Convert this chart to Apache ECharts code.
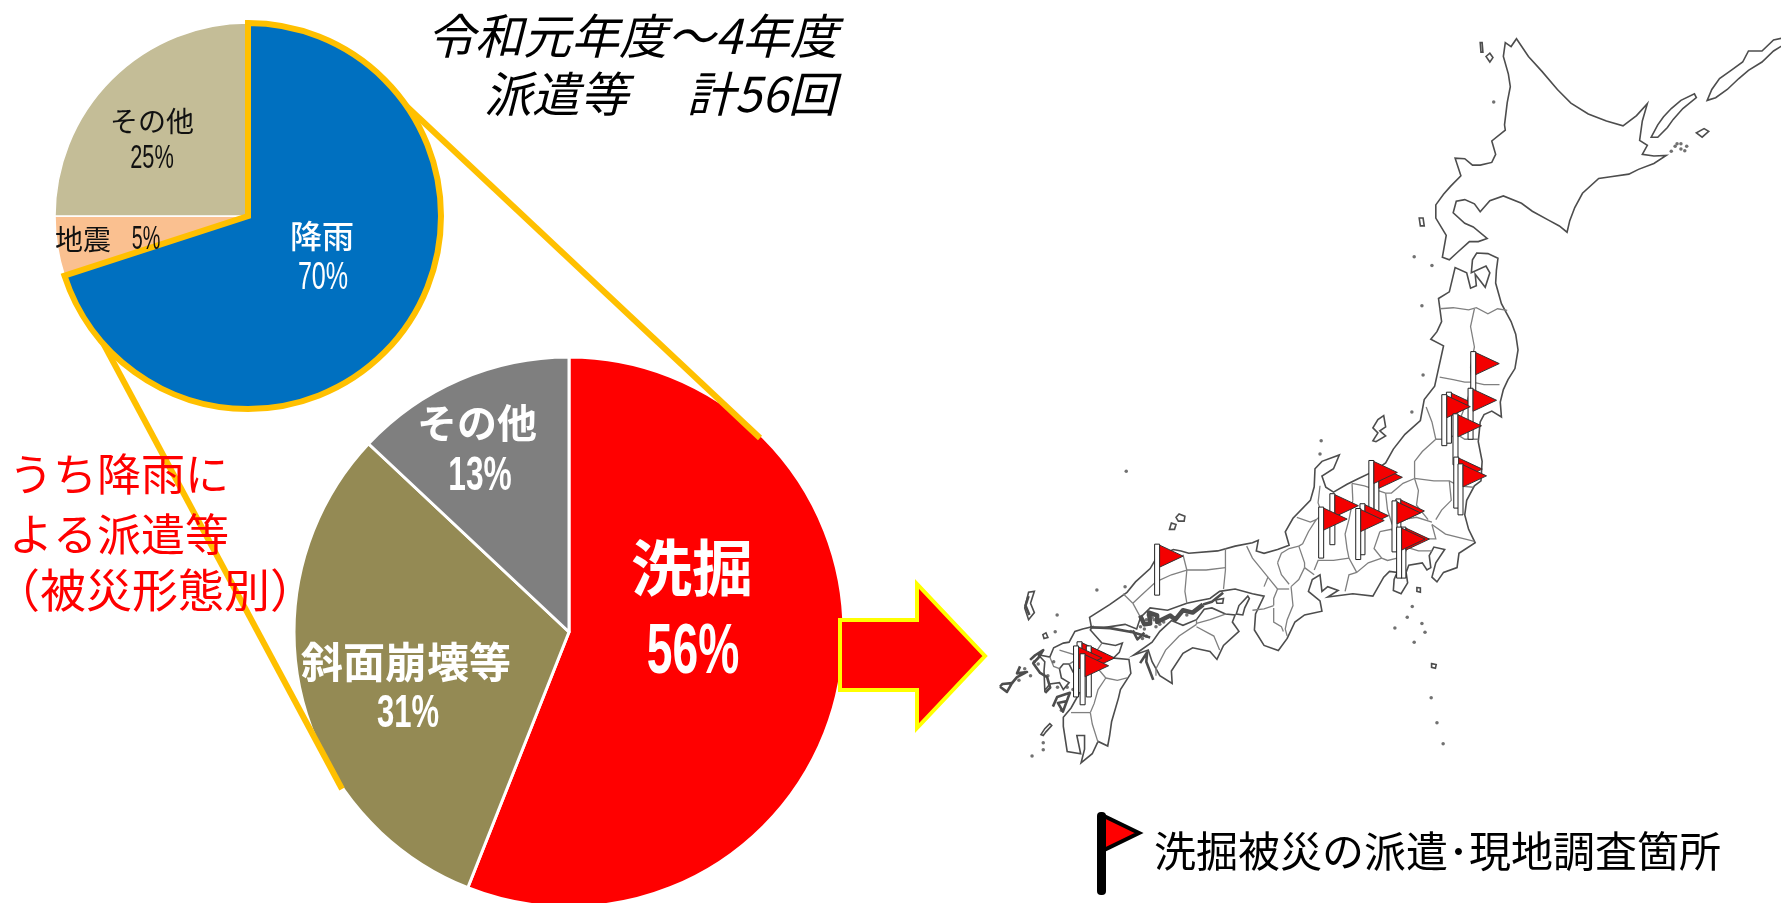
<!DOCTYPE html>
<html lang="ja">
<head>
<meta charset="utf-8">
<title>令和元年度～4年度 派遣等</title>
<style>html,body{margin:0;padding:0;background:#fff}#chart{width:1781px;height:903px}</style>
<script src="https://cdn.jsdelivr.net/npm/echarts@6/dist/echarts.min.js"></script>
</head>
<body>
<div id="chart"></div>
<script>
// ---- dispatch shares ----
const causeNames = ['地震', 'その他', '降雨'];
const causeValues = [5, 25, 70];
const causeColors = ['#FAC090', '#C4BD97', '#0070C0'];
const damageNames = ['洗掘', '斜面崩壊等', 'その他'];
const damageValues = [56, 31, 13];
const damageColors = ['#FF0000', '#948A54', '#7F7F7F'];

const titleLines = ['令和元年度～4年度', '　派遣等　 計56回'];
const sideNoteLines = ['うち降雨に', 'よる派遣等', '（被災形態別）'];
const legendText = '洗掘被災の派遣･現地調査箇所';

// where each slice's name and its condensed percentage sit
const causeNameAnchors = [[83, 239], [152, 121], [322, 236]];
const causePctAnchors = [[146, 240], [152, 159], [323, 279]];
const causePctStyle = [[33, 0.6], [33, 0.66], [38, 0.66]];
const damageNameAnchors = [[692, 568], [406, 662], [477, 423]];
const damagePctAnchors = [[693, 654], [408, 714], [480, 477]];
const damagePctStyle = [[70, 0.66], [47, 0.66], [48, 0.66]];

// ---- scour survey sites: longitude, latitude of each flag's foot ----
const flagSites = [
  [140.82, 38.59], [140.19, 37.77], [140.75, 37.85], [140.07, 37.72], [140.36, 37.33],
  [140.38, 36.44], [140.49, 36.30], [138.31, 36.27], [138.18, 36.37], [137.17, 35.68],
  [136.88, 35.40], [137.95, 35.47], [137.84, 35.37], [138.88, 35.57], [138.78, 35.53],
  [139.01, 34.98], [138.90, 34.98], [132.63, 34.62], [130.62, 32.53], [130.86, 32.44],
  [130.53, 32.44], [130.70, 32.27]
];

// ---- coastlines, longitude / latitude ----
const hokkaido = [[141.94,45.52],[142.25,45.2],[142.6,44.93],[143.0,44.6],[143.35,44.35],[143.8,44.15],[144.27,44.02],[144.7,43.93],[145.05,44.12],[145.33,44.34],[145.2,44.02],[145.13,43.66],[145.33,43.57],[145.2,43.4],[145.5,43.37],[145.82,43.38],[145.5,43.23],[145.1,43.12],[144.85,43.03],[144.38,42.98],[144.07,42.95],[143.65,42.67],[143.45,42.4],[143.32,42.15],[143.25,41.93],[143.05,42.05],[142.77,42.16],[142.35,42.33],[142.07,42.48],[141.6,42.62],[141.25,42.53],[141.0,42.32],[140.85,42.47],[140.6,42.55],[140.38,42.52],[140.3,42.3],[140.6,42.1],[140.82,42.03],[141.18,41.81],[140.95,41.75],[140.72,41.75],[140.42,41.55],[140.2,41.4],[140.02,41.45],[140.12,41.87],[139.85,42.2],[139.85,42.45],[140.05,42.65],[140.23,42.8],[140.5,43.0],[140.35,43.33],[140.6,43.32],[140.8,43.2],[141.0,43.2],[141.3,43.25],[141.4,43.4],[141.3,43.65],[141.65,43.85],[141.63,43.95],[141.7,44.36],[141.78,44.65],[141.73,44.88],[141.6,45.2],[141.65,45.45],[141.8,45.38]];

const honshu = [[140.91,41.53],[141.2,41.52],[141.46,41.43],[141.42,41.2],[141.4,40.95],[141.55,40.55],[141.8,40.2],[141.92,39.95],[141.98,39.64],[141.9,39.27],[141.72,39.05],[141.6,38.85],[141.52,38.6],[141.55,38.3],[141.3,38.42],[141.1,38.35],[141.0,38.2],[140.95,37.8],[141.05,37.4],[141.02,37.0],[140.85,36.9],[140.65,36.6],[140.6,36.3],[140.7,36.0],[140.87,35.72],[140.45,35.5],[140.4,35.2],[140.05,35.1],[139.88,34.9],[139.75,35.0],[139.85,35.3],[140.08,35.58],[139.8,35.63],[139.68,35.45],[139.72,35.2],[139.62,35.15],[139.5,35.3],[139.15,35.25],[139.08,35.1],[139.12,34.88],[138.95,34.65],[138.75,34.72],[138.77,34.95],[138.85,35.1],[138.65,35.12],[138.5,35.0],[138.22,34.6],[137.7,34.65],[137.05,34.58],[137.32,34.72],[137.05,34.8],[136.9,34.7],[136.85,35.05],[136.65,34.95],[136.55,34.7],[136.85,34.5],[136.9,34.28],[136.45,34.2],[136.2,34.05],[136.0,33.7],[135.77,33.44],[135.4,33.55],[135.15,33.88],[135.18,34.22],[135.4,34.6],[135.1,34.65],[134.65,34.75],[134.25,34.7],[134.0,34.55],[133.7,34.5],[133.4,34.45],[132.9,34.3],[132.45,34.35],[132.2,34.15],[132.1,33.9],[131.8,34.0],[131.25,33.93],[130.93,33.93],[130.88,34.15],[131.4,34.42],[131.85,34.68],[132.07,34.9],[132.45,35.18],[132.63,35.43],[133.05,35.58],[133.25,35.55],[133.45,35.5],[134.2,35.55],[134.65,35.65],[135.1,35.72],[135.25,35.77],[135.2,35.55],[135.4,35.5],[135.75,35.58],[136.05,35.67],[135.95,35.95],[136.15,36.23],[136.6,36.6],[136.7,36.88],[136.72,37.25],[136.9,37.4],[137.35,37.53],[137.2,37.25],[136.9,37.1],[137.0,36.87],[137.2,36.77],[137.55,36.93],[137.85,37.05],[138.25,37.2],[138.55,37.37],[138.75,37.65],[139.05,37.95],[139.45,38.23],[139.55,38.65],[139.82,38.92],[139.9,39.2],[140.05,39.72],[139.72,39.85],[139.88,40.0],[140.0,40.2],[139.92,40.65],[140.2,40.78],[140.35,41.25],[140.65,41.15],[140.75,40.85],[140.9,40.9],[140.87,41.12],[141.13,40.87],[141.25,41.15],[141.15,41.28],[140.77,41.15],[140.8,41.4]];

const shikoku = [[134.65,34.2],[134.58,34.05],[134.75,33.85],[134.35,33.55],[134.18,33.25],[134.0,33.42],[133.55,33.5],[133.3,33.38],[133.0,33.0],[133.02,32.73],[132.7,32.9],[132.5,33.2],[132.4,33.45],[132.02,33.34],[132.5,33.62],[132.7,33.85],[133.0,34.08],[133.3,33.98],[133.65,34.1],[133.85,34.32],[134.05,34.35],[134.4,34.22]];

const kyushu = [[130.95,33.95],[130.9,33.88],[131.2,33.6],[131.55,33.55],[131.73,33.6],[131.65,33.4],[131.5,33.28],[131.9,33.25],[131.95,32.95],[131.68,32.6],[131.63,32.42],[131.45,31.9],[131.4,31.6],[131.35,31.37],[131.1,31.47],[130.95,31.2],[130.66,31.0],[130.75,31.3],[130.75,31.6],[130.55,31.6],[130.65,31.2],[130.3,31.25],[130.2,31.8],[130.2,32.0],[130.4,32.2],[130.6,32.5],[130.6,32.8],[130.45,32.98],[130.35,33.15],[130.2,33.15],[130.1,33.05],[130.15,32.85],[130.35,32.75],[130.2,32.6],[130.1,32.75],[129.85,32.72],[129.72,32.58],[129.7,33.0],[129.72,33.2],[129.55,33.35],[129.85,33.3],[129.95,33.5],[130.2,33.6],[130.35,33.62],[130.5,33.85],[130.7,33.9]];

const awaji = [[134.98,34.6],[135.02,34.55],[134.9,34.35],[134.85,34.2],[134.68,34.22],[134.75,34.4]];
const sado = [[138.5,38.33],[138.55,38.1],[138.4,38.02],[138.55,37.92],[138.3,37.8],[138.22,37.82],[138.35,37.98],[138.22,38.08],[138.35,38.25]];
const tsushima = [[129.45,34.7],[129.3,34.68],[129.2,34.35],[129.3,34.1],[129.45,34.25],[129.35,34.45]];
const okiDogo = [[133.2,36.32],[133.35,36.27],[133.33,36.17],[133.18,36.17],[133.12,36.25]];
const okiDozen = [[133.0,36.13],[133.12,36.1],[133.08,36.0],[132.95,36.0]];
const iki = [[129.67,33.78],[129.75,33.82],[129.8,33.72],[129.7,33.7]];
const koshiki = [[129.62,31.62],[129.72,31.75],[129.85,31.86],[129.9,31.82],[129.75,31.68],[129.68,31.6]];
const rebun = [[141.0,45.45],[141.05,45.45],[141.07,45.28],[141.02,45.28]];
const rishiri = [[141.15,45.2],[141.25,45.26],[141.33,45.18],[141.25,45.1]];
const okushiri = [[139.42,42.2],[139.52,42.2],[139.55,42.05],[139.45,42.05]];
const kunashiri = [[145.43,43.72],[145.6,43.72],[145.85,43.9],[146.0,44.05],[146.25,44.25],[146.6,44.45],[146.55,44.52],[146.2,44.4],[145.95,44.25],[145.75,44.1],[145.6,43.95]];
const etorofu = [[146.88,44.4],[147.1,44.45],[147.4,44.6],[147.7,44.8],[147.95,44.95],[148.3,45.1],[148.6,45.3],[148.95,45.45],[148.95,45.55],[148.6,45.5],[148.3,45.3],[147.95,45.3],[147.8,45.1],[147.5,44.95],[147.2,44.8],[147.0,44.6]];
const shikotan = [[146.6,43.8],[146.75,43.72],[146.92,43.83],[146.8,43.88]];
const izuOshima = [[139.36,34.78],[139.45,34.77],[139.45,34.68],[139.36,34.7]];
const hachijo = [[139.74,33.16],[139.86,33.14],[139.84,33.06],[139.74,33.08]];
const shodoshima = [[134.15,34.52],[134.35,34.55],[134.33,34.45],[134.18,34.45]];

const islandRings = [hokkaido, honshu, shikoku, kyushu, awaji, sado, tsushima, okiDogo, okiDozen, iki,
  koshiki, rebun, rishiri, okushiri, kunashiri, etorofu, shikotan, izuOshima, hachijo, shodoshima];

// the crowded Seto islands, drawn as a heavy strand
const setoStrands = [
  [[132.19,34.19],[132.3,34.0],[132.45,34.02],[132.42,34.25],[132.63,34.19],[132.63,34.05],[132.97,34.19],[133.1,34.1],[133.3,34.3],[133.55,34.25],[133.82,34.42]]
];
// fretted shores and small archipelagos, a lighter strand
const shoreStrands = [
  [[128.56,32.66],[128.74,32.55],[128.87,32.74],[128.62,32.72],[128.56,32.66]],
  [[128.87,32.74],[129.0,32.87],[129.26,32.98],[129.0,32.95],[129.08,33.1]],
  [[129.34,33.24],[129.47,33.34],[129.68,33.45],[129.55,33.28],[129.42,33.17],[129.6,32.96],[129.78,32.87],[129.86,32.64],[129.73,32.53]],
  [[129.93,32.23],[130.04,32.44],[130.37,32.53],[130.19,32.12],[130.06,32.31],[130.3,32.35]],
  [[130.89,33.94],[131.41,33.92],[132.0,33.83],[132.45,33.72]],
  [[132.19,33.17],[132.37,33.4],[132.35,33.2],[132.53,32.81]],
  [[133.82,34.42],[134.05,34.48],[134.34,34.67]],
  [[132.0,33.87],[132.12,33.68],[132.3,33.82]],
  [[129.3,34.6],[129.22,34.4],[129.32,34.2]]
];

// small islands too fine for an outline
const islets = [
  [132.4,34.2],[132.5,34.15],[132.35,34.1],[132.2,33.95],[132.3,33.9],[132.6,33.95],[132.7,34.0],[132.8,34.05],[132.55,34.1],[133.4,34.2],
  [133.1,34.12],[131.95,33.85],[132.25,33.7],[132.35,33.75],[129.55,33.15],[129.45,33.2],[129.2,33.05],[129.8,32.9],[129.35,32.9],[129.05,32.8],
  [129.95,33.2],[130.05,32.65],[130.3,32.65],[130.15,32.15],[130.45,32.6],
  [131.07,34.73],[131.8,34.8],[130.04,34.2],[129.99,33.84],[129.68,31.44],[129.68,31.29],[129.39,31.15],
  [139.49,40.51],[139.29,41.46],[139.75,41.29],[139.52,39.14],[139.23,38.4],[136.88,37.82],[136.85,37.55],[131.83,37.2],[141.35,44.37],
  [139.24,34.38],[139.11,34.15],[139.49,34.02],[139.57,33.83],[139.29,33.62],[139.73,32.42],[139.88,31.88],[140.04,31.42],[138.79,33.92],
  [146.05,43.55],[146.1,43.6],[146.2,43.5],[146.3,43.47],[146.35,43.55],[145.95,43.46],[146.2,43.6]
];

// prefectural boundaries
const prefBorders = [
  [[139.95,40.45],[140.3,40.47],[140.7,40.43],[140.9,40.47],[141.2,40.35],[141.45,40.45],[141.7,40.42]],
  [[140.85,40.45],[140.75,40.1],[140.85,39.7],[140.75,39.3],[140.78,39.0]],
  [[140.8,39.0],[141.1,38.95],[141.5,38.95]],
  [[139.95,39.1],[140.3,39.05],[140.6,39.0],[140.8,39.0]],
  [[140.8,39.0],[140.65,38.6],[140.45,38.2],[140.4,37.95]],
  [[140.4,37.95],[140.6,37.85],[140.95,37.85]],
  [[139.85,37.85],[139.75,38.2],[139.6,38.5]],
  [[140.4,37.95],[140.1,37.85],[139.85,37.85]],
  [[139.85,37.85],[139.5,37.6],[139.3,37.4],[139.3,37.05]],
  [[139.3,37.05],[139.8,37.0],[140.2,37.0],[140.45,36.9],[140.82,36.87]],
  [[139.3,37.05],[139.0,36.95],[138.7,36.75],[138.55,36.75]],
  [[139.3,37.05],[139.4,36.8],[139.35,36.5],[139.65,36.2]],
  [[140.2,37.0],[140.25,36.6],[140.0,36.4],[139.85,36.2]],
  [[139.75,36.1],[140.1,35.9],[140.85,35.75]],
  [[138.72,36.1],[139.0,36.2],[139.35,36.25],[139.75,36.15]],
  [[138.72,36.0],[139.1,35.85],[139.6,35.8],[139.85,35.8],[139.75,36.1]],
  [[139.0,35.65],[139.4,35.55],[139.75,35.55]],
  [[138.4,35.95],[138.7,36.0],[138.95,35.75],[139.1,35.6],[138.85,35.4],[138.6,35.35],[138.45,35.4],[138.25,35.6],[138.4,35.95]],
  [[139.08,35.1],[139.0,35.4],[139.1,35.6]],
  [[138.45,35.4],[138.1,35.3],[137.8,35.1],[137.6,35.05],[137.5,34.7]],
  [[137.7,36.6],[137.6,36.2],[137.5,35.9],[137.55,35.6],[137.6,35.4],[137.8,35.1]],
  [[138.55,36.75],[138.6,36.4],[138.72,36.1]],
  [[137.68,36.95],[138.0,36.9],[138.55,36.75]],
  [[137.68,36.95],[137.7,36.6]],
  [[137.7,36.45],[137.35,36.35],[136.9,36.3]],
  [[136.85,36.9],[136.8,36.55],[136.9,36.3]],
  [[136.25,36.25],[136.6,36.15],[136.75,36.2],[136.9,36.3]],
  [[136.75,36.2],[136.55,35.95],[136.4,35.7],[136.3,35.65]],
  [[136.3,35.65],[136.45,35.3],[136.45,35.2]],
  [[136.3,35.65],[136.05,35.6],[135.85,35.5],[135.75,35.3]],
  [[136.45,35.2],[136.3,34.95],[136.1,34.8]],
  [[136.7,35.15],[136.8,35.35],[137.2,35.35],[137.6,35.4]],
  [[136.45,35.2],[136.7,35.05]],
  [[136.1,34.8],[136.15,34.4],[136.0,34.1],[135.95,33.9],[136.0,33.75]],
  [[135.75,35.3],[135.85,35.05],[136.05,34.85]],
  [[136.05,34.75],[135.75,34.75]],
  [[135.75,34.75],[135.65,34.55],[135.65,34.4]],
  [[135.1,34.3],[135.4,34.33],[135.65,34.4]],
  [[135.65,34.35],[135.65,34.05],[135.85,33.95],[135.9,33.85]],
  [[135.75,34.75],[135.5,35.0],[135.4,34.8]],
  [[134.95,35.65],[135.1,35.4],[135.4,35.1],[135.5,35.0]],
  [[134.4,35.6],[134.4,35.15],[134.35,34.75]],
  [[134.4,35.2],[133.9,35.15],[133.4,35.15]],
  [[133.4,35.15],[133.35,34.7],[133.4,34.45]],
  [[133.4,35.15],[133.0,35.05],[132.6,34.9],[132.2,34.6],[132.0,34.45]],
  [[133.4,35.15],[133.3,35.47]],
  [[132.0,34.45],[131.75,34.65]],
  [[132.0,34.45],[132.2,34.15]],
  [[134.4,34.22],[134.0,34.1],[133.65,34.02]],
  [[133.65,34.1],[133.65,34.0]],
  [[133.65,34.0],[133.2,33.75],[132.85,33.45],[132.6,33.05],[132.6,32.9]],
  [[133.65,33.95],[134.1,33.75],[134.25,33.45]],
  [[131.2,33.6],[131.0,33.35],[130.95,33.12]],
  [[130.1,33.45],[130.5,33.35],[130.55,33.25],[130.35,33.15]],
  [[130.45,33.0],[130.8,33.05],[130.95,33.12]],
  [[130.95,33.12],[131.15,33.0],[131.3,32.85]],
  [[131.3,32.85],[131.6,32.8],[131.85,32.85]],
  [[131.3,32.85],[131.1,32.6],[131.0,32.3],[130.9,32.1]],
  [[130.4,32.1],[130.7,32.1],[130.9,32.1]],
  [[130.9,32.1],[130.95,31.85],[131.1,31.45]],
  [[129.85,33.3],[129.95,33.1],[130.1,33.05]]
];

const FONT = '"Noto Sans CJK JP", "Noto Sans", sans-serif';
const LATIN = '"Liberation Sans", sans-serif';

echarts.registerMap('japan', {
  type: 'FeatureCollection',
  features: islandRings.map(function (ring, i) {
    return {
      type: 'Feature',
      properties: { name: 'island' + i },
      geometry: { type: 'Polygon', coordinates: [ring.concat([ring[0]])] }
    };
  })
});

const chart = echarts.init(document.getElementById('chart'));

const mercator = {
  project: function (p) {
    const lat = p[1] * Math.PI / 180;
    return [p[0] * Math.PI / 180, -Math.log(Math.tan(Math.PI / 4 + lat / 2))];
  },
  unproject: function (p) {
    return [p[0] * 180 / Math.PI, (2 * Math.atan(Math.exp(-p[1])) - Math.PI / 2) * 180 / Math.PI];
  }
};

// the flag is a white pole with a dark edge carrying a red pennant
function renderFlag(params, api) {
  const foot = api.coord([api.value(0), api.value(1)]);
  const top = foot[1] - 51;
  const x = foot[0];
  return {
    type: 'group',
    children: [
      { type: 'rect', shape: { x: x - 2.5, y: top, width: 5, height: 51 },
        style: { fill: '#fff', stroke: '#222', lineWidth: 1 } },
      { type: 'polygon', shape: { points: [[x + 2.5, top + 1], [x + 26, top + 12], [x + 2.5, top + 23]] },
        style: { fill: '#F40000', stroke: '#333', lineWidth: 1 } }
    ]
  };
}

// slice values written in the condensed look of a half-width face
function pctText(value, anchor, style, color, weight) {
  return {
    type: 'text', z: 6, silent: true, x: anchor[0], y: anchor[1], scaleX: style[1],
    style: { text: value + '%', font: weight + ' ' + style[0] + 'px ' + LATIN, fill: color,
      textAlign: 'center', textVerticalAlign: 'middle' }
  };
}

function nameLayout(anchors) {
  return function (p) {
    const a = anchors[p.dataIndex];
    return { x: a[0], y: a[1], align: 'center', verticalAlign: 'middle' };
  };
}

function strandSeries(strands, width) {
  return {
    type: 'lines',
    coordinateSystem: 'geo',
    polyline: true,
    silent: true,
    z: 2,
    lineStyle: { color: '#4d4d4d', width: width, opacity: 1, join: 'round' },
    data: strands.map(function (c) { return { coords: c }; })
  };
}

chart.setOption({
  animation: false,
  backgroundColor: '#fff',
  geo: {
    map: 'japan',
    projection: mercator,
    boundingCoords: [[129, 46], [149, 30]],
    left: 1017, top: 12, width: 772, height: 796,
    roam: false,
    silent: true,
    z: 1,
    label: { show: false },
    itemStyle: { areaColor: '#fff', borderColor: '#4d4d4d', borderWidth: 1.6 },
    emphasis: { disabled: true }
  },
  series: [
    {
      type: 'lines',
      coordinateSystem: 'geo',
      polyline: true,
      silent: true,
      z: 2,
      lineStyle: { color: '#808080', width: 1.3, opacity: 1 },
      data: prefBorders.map(function (c) { return { coords: c }; })
    },
    strandSeries(setoStrands, 4.5),
    strandSeries(shoreStrands, 2.6),
    {
      type: 'scatter',
      coordinateSystem: 'geo',
      silent: true,
      z: 2,
      symbolSize: 3.5,
      itemStyle: { color: '#4d4d4d' },
      data: islets
    },
    {
      type: 'custom',
      coordinateSystem: 'geo',
      silent: true,
      z: 3,
      renderItem: renderFlag,
      data: flagSites
    },
    {
      // all dispatches by cause; the rain slice is drawn last so its outline stays on top
      type: 'pie',
      center: [248, 216],
      radius: [0, 193],
      startAngle: 198,
      clockwise: true,
      silent: true,
      z: 4,
      label: { show: true, position: 'inside', formatter: '{b}', fontFamily: FONT, fontSize: 28, color: '#111' },
      labelLine: { show: false },
      labelLayout: nameLayout(causeNameAnchors),
      data: causeNames.map(function (n, i) {
        const item = { name: n, value: causeValues[i],
          itemStyle: { color: causeColors[i], borderColor: '#fff', borderWidth: 1.5 } };
        if (n === '降雨') {
          item.itemStyle = { color: causeColors[i], borderColor: '#FFC000', borderWidth: 6, borderJoin: 'miter' };
          item.label = { fontSize: 32, color: '#fff', fontWeight: 500 };
        }
        return item;
      })
    },
    {
      // rain-related dispatches by damage type
      type: 'pie',
      center: [569, 632],
      radius: [0, 275],
      startAngle: 90,
      clockwise: true,
      silent: true,
      z: 2,
      itemStyle: { borderColor: '#fff', borderWidth: 3 },
      label: { show: true, position: 'inside', formatter: '{b}', fontFamily: FONT, fontSize: 40, color: '#fff', fontWeight: 'bold' },
      labelLine: { show: false },
      labelLayout: nameLayout(damageNameAnchors),
      data: damageNames.map(function (n, i) {
        const item = { name: n, value: damageValues[i], itemStyle: { color: damageColors[i] } };
        if (n === '洗掘') { item.label = { fontSize: 61 }; }
        if (n === '斜面崩壊等') { item.label = { fontSize: 42 }; }
        return item;
      })
    }
  ],
  graphic: [
    // zoom connectors from the rain slice to the lower pie
    { type: 'polyline', z: 3, silent: true, shape: { points: [[385, 86], [760, 438]] },
      style: { stroke: '#FFC000', lineWidth: 6, fill: 'none' } },
    { type: 'polyline', z: 3, silent: true, shape: { points: [[72, 285], [342, 789]] },
      style: { stroke: '#FFC000', lineWidth: 6, fill: 'none' } },
    // block arrow from the scour slice toward the map
    { type: 'polygon', z: 5, silent: true,
      shape: { points: [[840, 620], [917, 620], [917, 584], [985, 656], [917, 728], [917, 690], [840, 690]] },
      style: { fill: '#FF0000', stroke: '#FFFF00', lineWidth: 4 } },
    { type: 'text', z: 6, silent: true, x: 427, y: 36,
      style: { text: titleLines[0], font: 'italic 48px ' + FONT, fill: '#000', textVerticalAlign: 'middle' } },
    { type: 'text', z: 6, silent: true, x: 436, y: 94,
      style: { text: titleLines[1], font: 'italic 48px ' + FONT, fill: '#000', textVerticalAlign: 'middle' } },
    { type: 'text', z: 6, silent: true, x: 9, y: 474,
      style: { text: sideNoteLines[0], font: '44px ' + FONT, fill: '#FF0000', textVerticalAlign: 'middle' } },
    { type: 'text', z: 6, silent: true, x: 9, y: 534,
      style: { text: sideNoteLines[1], font: '44px ' + FONT, fill: '#FF0000', textVerticalAlign: 'middle' } },
    { type: 'text', z: 6, silent: true, x: -6, y: 590,
      style: { text: sideNoteLines[2], font: '46px ' + FONT, fill: '#FF0000', textVerticalAlign: 'middle' } }
  ].concat(
    causeValues.map(function (v, i) {
      return pctText(v, causePctAnchors[i], causePctStyle[i], causeNames[i] === '降雨' ? '#fff' : '#111', 'normal');
    }),
    damageValues.map(function (v, i) {
      return pctText(v, damagePctAnchors[i], damagePctStyle[i], '#fff', 'bold');
    }),
    [
      // key for the flags on the map
      { type: 'rect', z: 6, silent: true, shape: { x: 1097, y: 812, width: 9, height: 83, r: 4 }, style: { fill: '#000' } },
      { type: 'polygon', z: 6, silent: true, shape: { points: [[1104, 816], [1139, 833], [1104, 850]] },
        style: { fill: '#FF0000', stroke: '#000', lineWidth: 4 } },
      { type: 'text', z: 6, silent: true, x: 1154, y: 851,
        style: { text: legendText, font: '42px ' + FONT, fill: '#000', textVerticalAlign: 'middle' } }
    ]
  )
});
</script>
</body>
</html>
